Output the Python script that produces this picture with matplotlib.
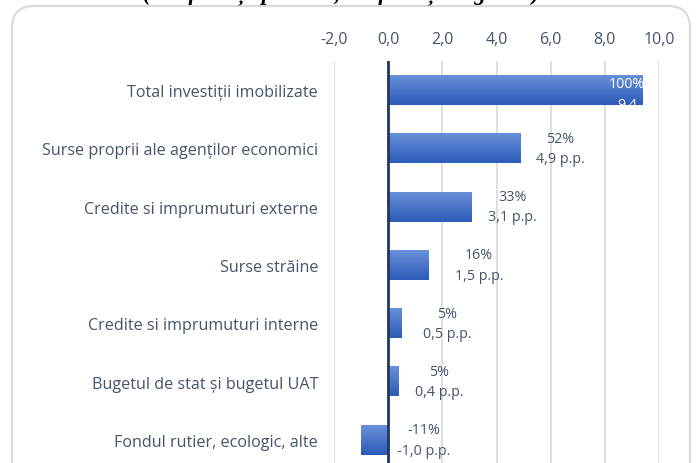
import numpy as np
import matplotlib.pyplot as plt
from matplotlib.patches import FancyBboxPatch
from matplotlib.transforms import IdentityTransform
from matplotlib.colors import LinearSegmentedColormap

# Data
categories = ['Total investiții imobilizate',
              'Surse proprii ale agenților economici',
              'Credite si imprumuturi externe',
              'Surse străine',
              'Credite si imprumuturi interne',
              'Bugetul de stat și bugetul UAT',
              'Fondul rutier, ecologic, alte']
values = [9.4, 4.9, 3.1, 1.5, 0.5, 0.4, -1.0]
shares = ['100%', '52%', '33%', '16%', '5%', '5%', '-11%']
value_texts = ['9.4', '4,9 p.p.', '3,1 p.p.', '1,5 p.p.', '0,5 p.p.', '0,4 p.p.', '-1,0 p.p.']
xticks = [-2, 0, 2, 4, 6, 8, 10]
title = '(+ influența pozitivă, - influența negativă)'

# label offsets from bar end (px), placed by hand in the original
label_gap = [0, 15, 16, 26, 21, 16, 9]

text_color = '#44546A'
plt.rcParams['font.family'] = ['Open Sans', 'DejaVu Sans']

fig = plt.figure(figsize=(6.97, 4.64), dpi=100)
W, H = 697, 464

# rounded chart frame
frame = FancyBboxPatch((12, -40), 678, 40 + H - 7,
                       boxstyle='round,pad=0,rounding_size=22',
                       transform=IdentityTransform(), facecolor='white',
                       edgecolor='#d9d9d9', linewidth=1.5, zorder=0)
fig.add_artist(frame)

fig.text(341 / W, (H + 1) / H, title, ha='center', va='baseline',
         fontsize=16.5, fontweight='bold', fontstyle='italic',
         family='Liberation Serif', color='black')

ax = fig.add_axes([334 / W, (H - 470) / H, (659 - 334) / W, (470 - 62) / H])
ax.patch.set_alpha(0)

y = np.arange(len(categories))
bar_h = 0.51
bars = ax.barh(y, values, height=bar_h, color='none', edgecolor='none', zorder=3)

# vertical gradient on each bar
cmap = LinearSegmentedColormap.from_list('bargrad', ['#6890d9', '#2c5bb8'])
grad = np.linspace(0, 1, 64).reshape(-1, 1)
for b in bars:
    x0, x1 = sorted([b.get_x(), b.get_x() + b.get_width()])
    y0, y1 = b.get_y(), b.get_y() + b.get_height()
    ax.imshow(grad, cmap=cmap, aspect='auto', extent=(x0, x1, y1, y0),
              origin='upper', zorder=3, interpolation='bilinear')

ax.set_xlim(-2, 10)
ax.set_ylim(len(categories) - 0.5, -0.5)

ax.set_xticks(xticks)
ax.set_xticklabels([f'{t:.1f}'.replace('.', ',') for t in xticks])
ax.xaxis.tick_top()
ax.tick_params(axis='x', length=0, pad=10, labelsize=11.5, labelcolor=text_color)
ax.set_yticks(y)
ax.set_yticklabels(categories)
ax.tick_params(axis='y', length=0, pad=11.5, labelsize=11.6, labelcolor=text_color)

ax.grid(True, axis='x', color='#d9d9d9', linewidth=1.2, zorder=0)
ax.axvline(0, color='#1f3864', linewidth=2, zorder=4)
for s in ax.spines.values():
    s.set_visible(False)

# data labels
for i, (v, sh, vt) in enumerate(zip(values, shares, value_texts)):
    if i == 0:
        ax.annotate(f'{sh}\n{vt}', xy=(v, i), xytext=(-16, -4),
                    textcoords='offset pixels', ha='center', va='center',
                    multialignment='center', fontsize=10.3, color='white',
                    linespacing=1.5, zorder=5)
    else:
        ax.annotate(f'{sh}\n{vt}', xy=(max(v, 0), i), xytext=(label_gap[i], 0),
                    textcoords='offset pixels', ha='left', va='center',
                    multialignment='center', fontsize=10.3, color=text_color,
                    linespacing=1.5, zorder=5)

fig.savefig('out.png', dpi=100)
